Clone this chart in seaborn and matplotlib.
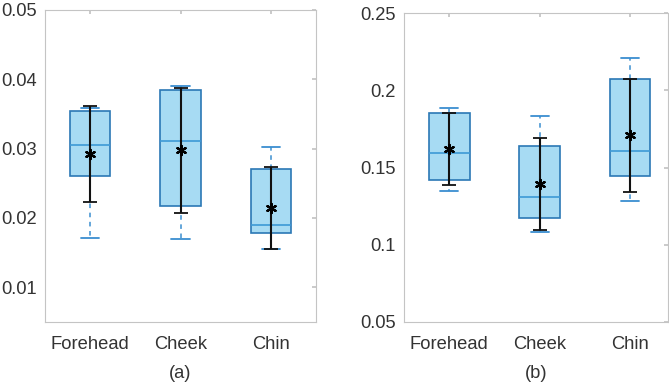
import numpy as np
import pandas as pd
import matplotlib
matplotlib.use("Agg")
import matplotlib.pyplot as plt
import seaborn as sns

sns.set_theme(style="white")
plt.rcParams['font.family'] = ['Liberation Sans', 'DejaVu Sans']

categories = ["Forehead", "Cheek", "Chin"]

# Panel (a)
a_whislo = [0.0171, 0.0170, 0.0155]
a_q1     = [0.0261, 0.0217, 0.0178]
a_med    = [0.0305, 0.0311, 0.0190]
a_q3     = [0.0355, 0.0385, 0.0271]
a_whishi = [0.0359, 0.0390, 0.0302]
a_mean   = [0.0293, 0.0298, 0.0214]
a_err_lo = [0.0223, 0.0207, 0.0155]
a_err_hi = [0.0362, 0.0388, 0.0273]

# Panel (b)
b_whislo = [0.1346, 0.1080, 0.1283]
b_q1     = [0.1421, 0.1173, 0.1447]
b_med    = [0.1596, 0.1309, 0.1609]
b_q3     = [0.1853, 0.1641, 0.2075]
b_whishi = [0.1887, 0.1833, 0.2211]
b_mean   = [0.1618, 0.1393, 0.1708]
b_err_lo = [0.1385, 0.1093, 0.1341]
b_err_hi = [0.1853, 0.1689, 0.2071]

a_yticks = [0.01, 0.02, 0.03, 0.04, 0.05]
a_yticklabels = ["0.01", "0.02", "0.03", "0.04", "0.05"]
b_yticks = [0.05, 0.1, 0.15, 0.2, 0.25]
b_yticklabels = ["0.05", "0.1", "0.15", "0.2", "0.25"]

FILL = "#a7dbf3"
EDGE = "#2b78b5"
MED = "#3d9ad6"
WHISK = "#3a8ed0"
TEXT = "#333333"
SPINE = "#c4c4c4"

W, H = 669, 383
fig = plt.figure(figsize=(W / 100, H / 100), dpi=100)
ax_a = fig.add_axes([45 / W, 61 / H, 271 / W, 312 / H])
ax_b = fig.add_axes([404 / W, 61 / H, 264 / W, 309 / H])


def draw(ax, whislo, q1, med, q3, whishi, mean, elo, ehi, ylim, yticks, yticklabels, xlim, label):
    positions = [1, 2, 3]
    stats = []
    for i, c in enumerate(categories):
        stats.append(dict(label=c, whislo=whislo[i], q1=q1[i], med=med[i],
                          q3=q3[i], whishi=whishi[i], fliers=[]))
    ax.bxp(stats, positions=positions, widths=0.45, patch_artist=True,
           showfliers=False,
           boxprops=dict(facecolor=FILL, edgecolor=EDGE, linewidth=1.2),
           medianprops=dict(color=MED, linewidth=1.2),
           whiskerprops=dict(color=WHISK, linewidth=1.1, linestyle=(0, (3, 3))),
           capprops=dict(color=WHISK, linewidth=1.3),
           capwidths=0.2, manage_ticks=False)
    df = pd.DataFrame({"pos": positions, "mean": mean})
    ax.errorbar(positions, mean,
                yerr=[np.array(mean) - np.array(elo), np.array(ehi) - np.array(mean)],
                fmt="none", ecolor="#111111", elinewidth=1.5, capsize=5, capthick=1.3, zorder=5)
    sns.scatterplot(data=df, x="pos", y="mean", ax=ax, marker=(6, 2, 0), s=45,
                    color="black", linewidth=1.6, zorder=6, legend=False)
    sns.scatterplot(data=df, x="pos", y="mean", ax=ax, marker="o", s=12,
                    color="black", linewidth=0, zorder=6, legend=False)
    ax.set_xlim(*xlim)
    ax.set_ylim(*ylim)
    ax.set_xticks(positions)
    ax.set_xticklabels(categories)
    ax.set_yticks(yticks)
    ax.set_yticklabels(yticklabels)
    ax.set_xlabel(label, fontsize=13.2, color=TEXT, labelpad=9)
    ax.set_ylabel("")
    ax.tick_params(axis="both", direction="in", length=3, color=SPINE,
                   labelsize=13.2, labelcolor=TEXT, top=True, right=True, pad=6)
    ax.tick_params(axis="x", pad=10)
    for s in ax.spines.values():
        s.set_color(SPINE)
        s.set_linewidth(0.8)
        s.set_visible(True)


draw(ax_a, a_whislo, a_q1, a_med, a_q3, a_whishi, a_mean, a_err_lo, a_err_hi,
     (0.005, 0.05), a_yticks, a_yticklabels, (0.5, 3.5), "(a)")
draw(ax_b, b_whislo, b_q1, b_med, b_q3, b_whishi, b_mean, b_err_lo, b_err_hi,
     (0.05, 0.25), b_yticks, b_yticklabels, (0.5, 3.42), "(b)")

fig.savefig("out.png", dpi=100, facecolor="white")
